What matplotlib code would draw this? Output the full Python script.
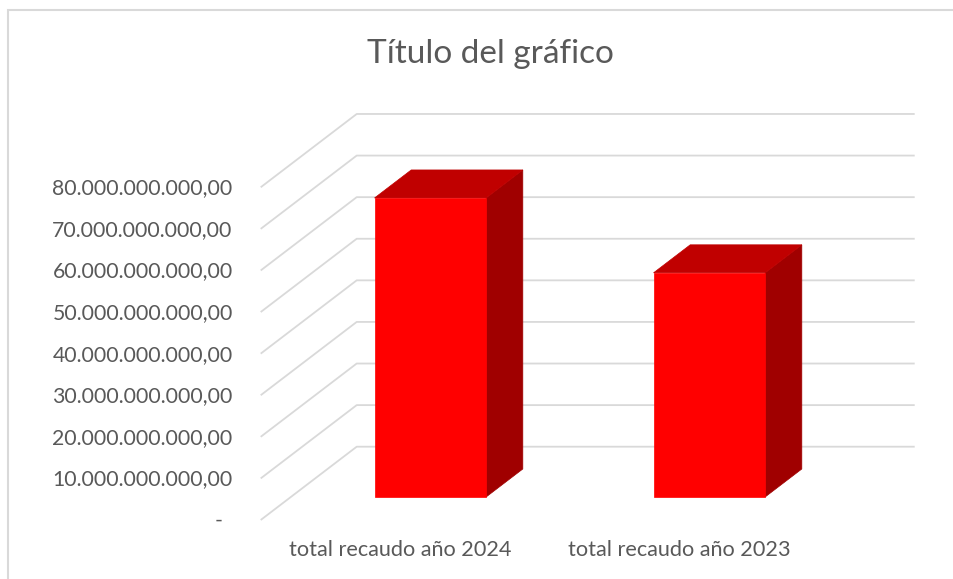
import matplotlib.pyplot as plt
from matplotlib.patches import Polygon, Rectangle

# data (billions of pesos)
categories = ["total recaudo año 2024", "total recaudo año 2023"]
values = [71.9, 53.9]
tick_values = [0, 10, 20, 30, 40, 50, 60, 70, 80]
tick_labels = ["-", "10.000.000.000,00", "20.000.000.000,00", "30.000.000.000,00",
               "40.000.000.000,00", "50.000.000.000,00", "60.000.000.000,00",
               "70.000.000.000,00", "80.000.000.000,00"]
title = "Título del gráfico"

plt.rcParams['font.family'] = ['Lato', 'DejaVu Sans']
TXT = "#595959"
GRID = "#d9d9d9"

# oblique "3d" projection: depth d in 0..1 shifts right and up
DX = 96 / 279.0
DY = 73.3 / 4.159


def proj(x, v, d):
    return (x + DX * d, v + DY * d)


fig = plt.figure(figsize=(9.54, 5.79), dpi=100)
ax = fig.add_axes([0, 0, 1, 1])
ax.set_xlim(-400.2 / 279, 553.8 / 279)
ax.set_ylim(-59 / 4.159, 520 / 4.159)
ax.axis("off")

# chart border
fig.patches.append(Rectangle((8 / 954, -0.1), 1.2, 1 - 10 / 579 + 0.1,
                             transform=fig.transFigure, fill=False,
                             edgecolor=GRID, linewidth=1.5))

# gridlines: side wall diagonals + back wall horizontals
x0, x1 = -0.5, len(categories) - 0.5
for v in tick_values:
    a = proj(x0, v, 0)
    b = proj(x0, v, 1)
    c = proj(x1, v, 1)
    ax.plot([a[0], b[0], c[0]], [a[1], b[1], c[1]], color=GRID, lw=1.3,
            solid_capstyle="butt", zorder=1)

# tick labels
for v, lab in zip(tick_values, tick_labels):
    px = -28 if lab != "-" else -38
    ax.annotate(lab, (x0, v), xytext=(px, -1), textcoords="offset pixels",
                ha="right", va="center", color=TXT, fontsize=15.3)

# bars
w = 0.2
d0, d1 = 0.314, 0.696
for i, v in enumerate(values):
    side = [proj(i + w, 0, d0), proj(i + w, 0, d1), proj(i + w, v, d1), proj(i + w, v, d0)]
    top = [proj(i - w, v, d0), proj(i + w, v, d0), proj(i + w, v, d1), proj(i - w, v, d1)]
    front = [proj(i - w, 0, d0), proj(i + w, 0, d0), proj(i + w, v, d0), proj(i - w, v, d0)]
    ax.add_patch(Polygon(side, closed=True, facecolor="#a00000", edgecolor="#a00000", lw=0.5, zorder=3))
    ax.add_patch(Polygon(top, closed=True, facecolor="#c00000", edgecolor="#c00000", lw=0.5, zorder=3))
    ax.add_patch(Polygon(front, closed=True, facecolor="#ff0000", edgecolor="#ff0000", lw=0.5, zorder=4))

# category labels
for i, lab in enumerate(categories):
    ax.annotate(lab, (i, 0), xytext=(0, -30), textcoords="offset pixels",
                ha="center", va="center", color=TXT, fontsize=15.6)

fig.text(490 / 954, 1 - 63 / 579, title, ha="center", va="baseline",
         color=TXT, fontsize=24)

fig.savefig("out.png", dpi=100, facecolor="white")
